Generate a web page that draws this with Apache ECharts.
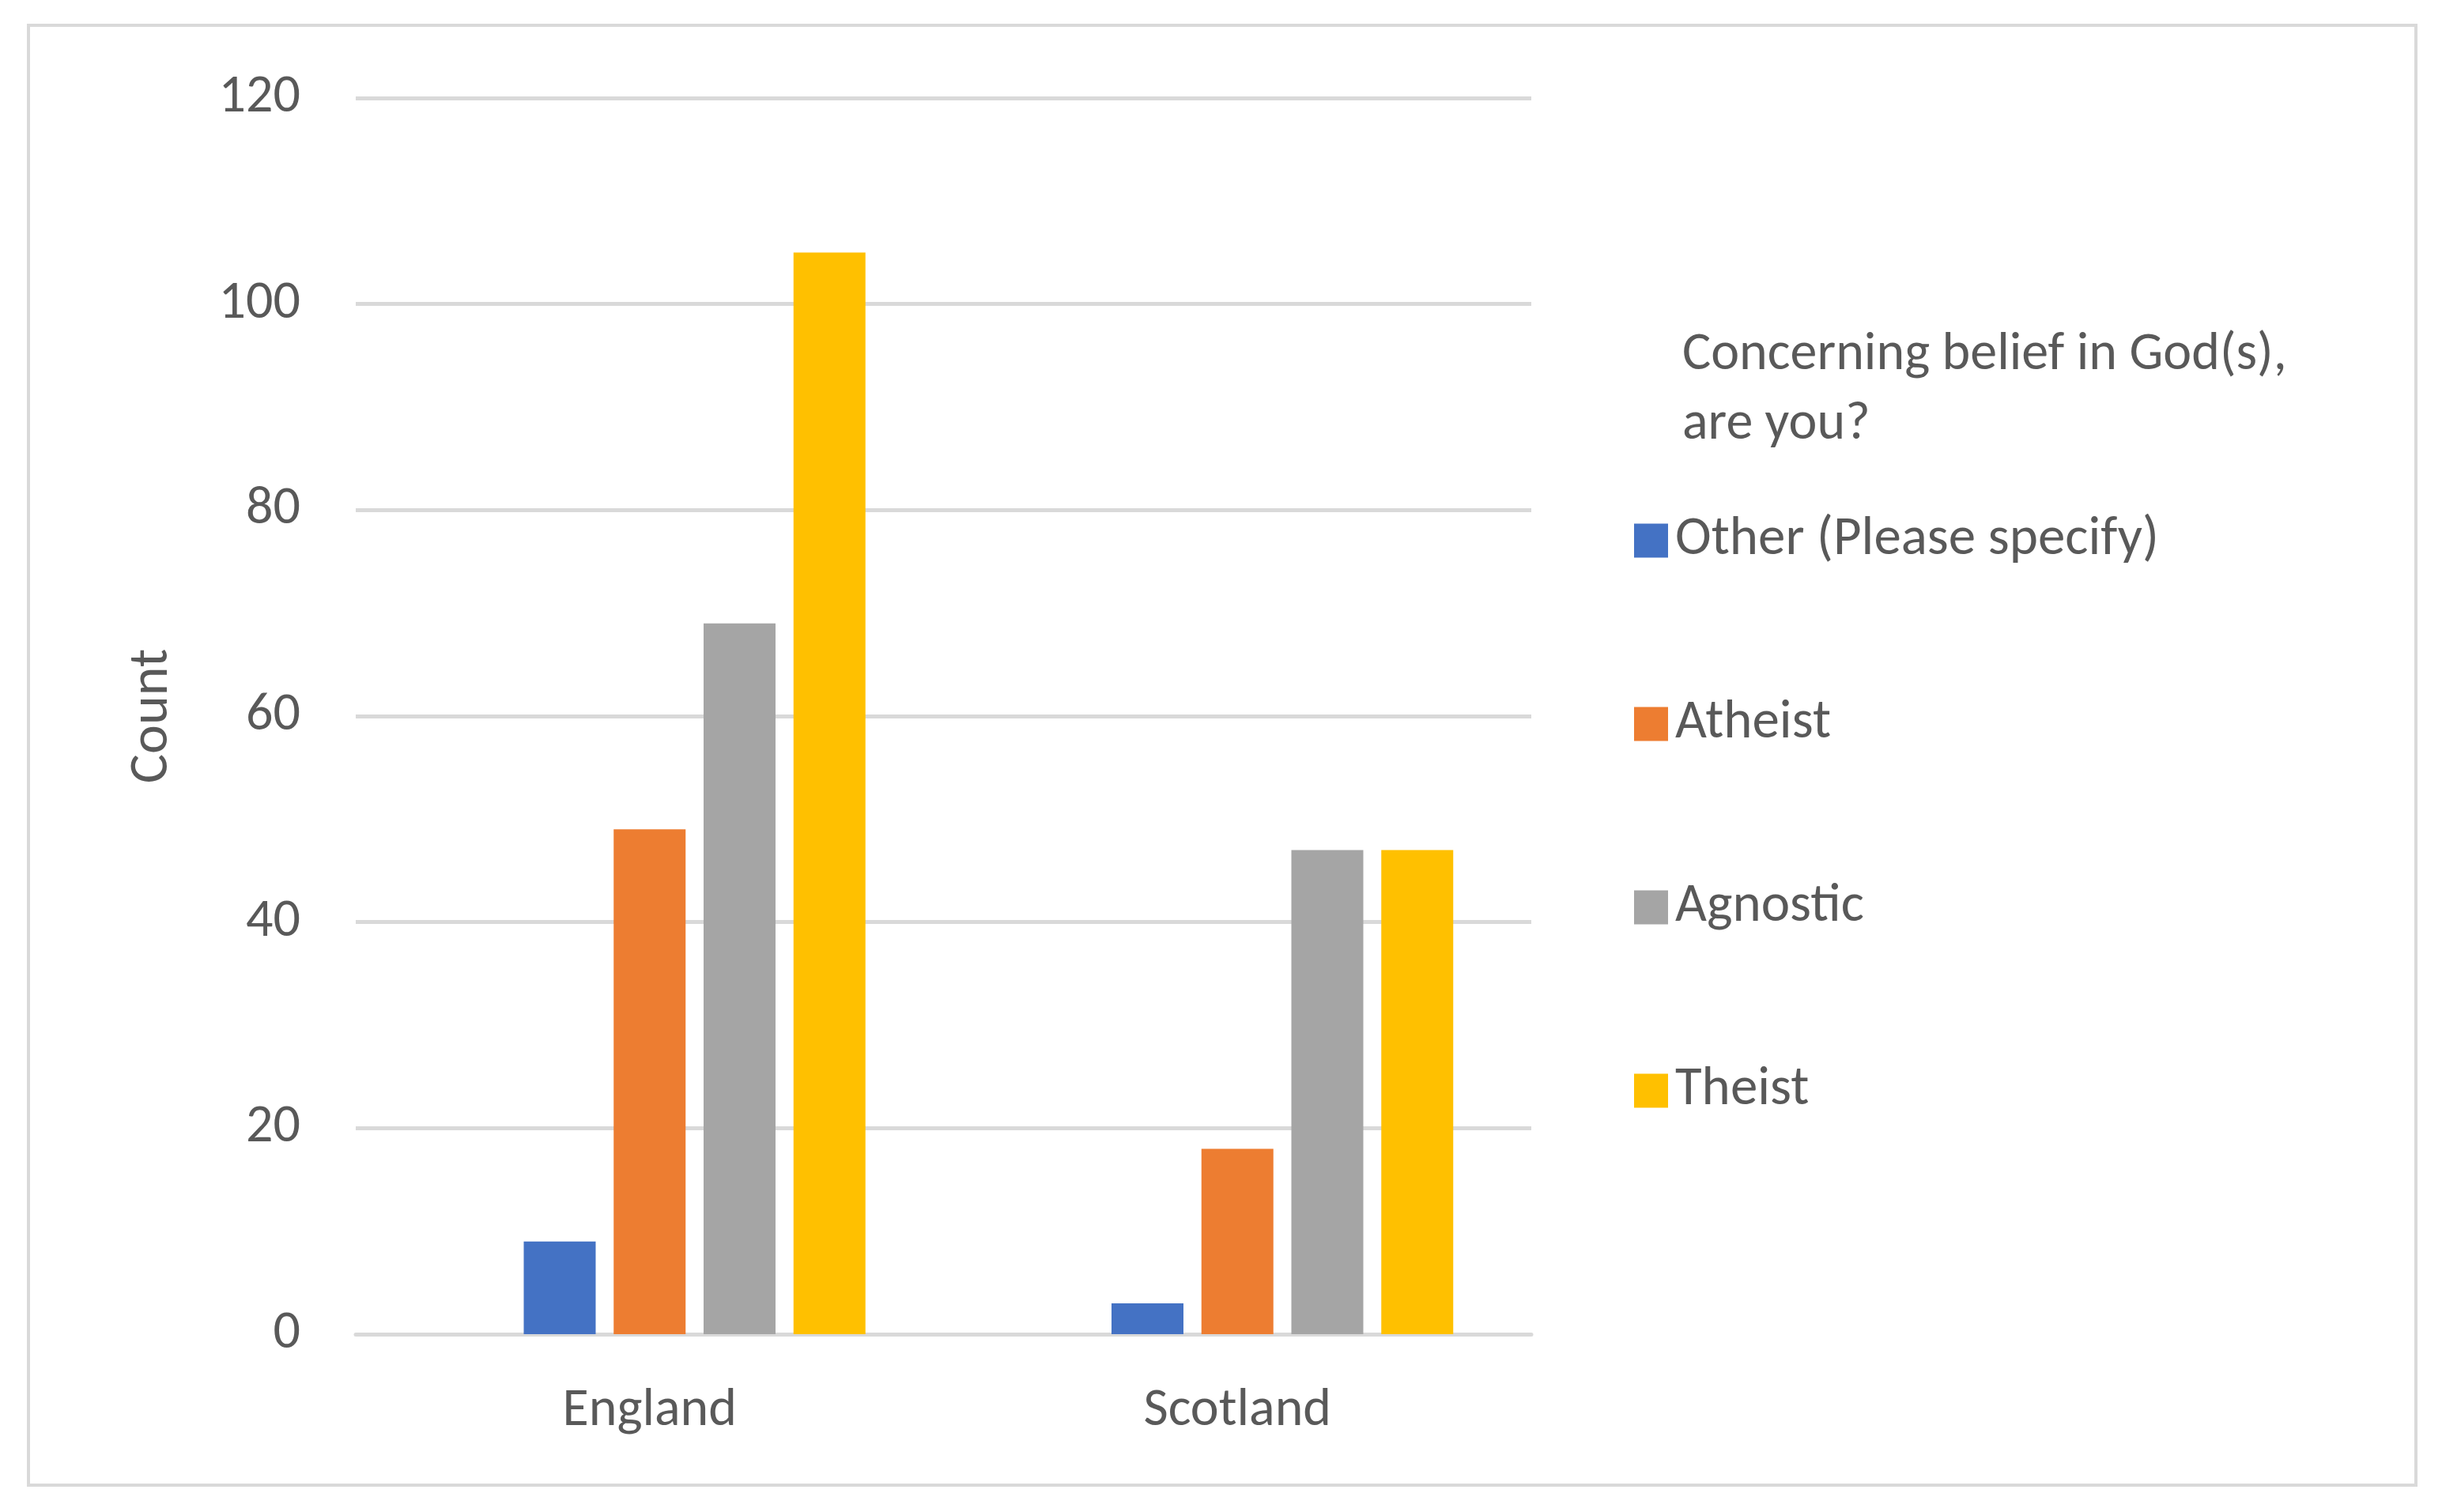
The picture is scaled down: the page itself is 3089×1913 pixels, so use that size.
<!DOCTYPE html>
<html><head><meta charset="utf-8">
<script src="https://cdn.jsdelivr.net/npm/echarts@6/dist/echarts.min.js"></script>
<style>html,body{margin:0;padding:0;background:#fff}#c{width:3089px;height:1913px}</style>
</head><body><div id="c"></div>
<script>
const categories = ['England', 'Scotland'];
const seriesNames = ['Other (Please specify)', 'Atheist', 'Agnostic', 'Theist'];
const other = [9, 3];
const atheist = [49, 18];
const agnostic = [69, 47];
const theist = [105, 47];
const colors = ['#4472C4', '#ED7D31', '#A5A5A5', '#FFC000'];
const values = [other, atheist, agnostic, theist];
const F = 'Calibri, Carlito, "Open Sans", "Noto Sans", sans-serif';
const chart = echarts.init(document.getElementById('c'));
const series = [{ name: '_blank', type: 'bar', data: [null, null], barWidth: 91, barGap: '25%' }];
seriesNames.forEach((n, i) => series.push({ name: n, type: 'bar', data: values[i], barWidth: 91, barGap: '25%', itemStyle: { color: colors[i] } }));
chart.setOption({
  animation: false,
  backgroundColor: '#fff',
  textStyle: { fontFamily: F },
  graphic: [
    { type: 'rect', shape: { x: 36, y: 32, width: 3020, height: 1847 }, style: { fill: 'none', stroke: '#d9d9d9', lineWidth: 4 } },
    { type: 'text', left: 2128, top: 406, style: { text: 'Concerning belief in God(s),\nare you?', font: '68px ' + F, fill: '#595959', lineHeight: 88 } }
  ],
  legend: {
    orient: 'vertical', left: 2062, top: 644,
    data: seriesNames, itemWidth: 43, itemHeight: 43, itemGap: 162,
    icon: 'rect',
    textStyle: { fontSize: 69, lineHeight: 70, color: '#595959', fontFamily: F, padding: [0, 0, 0, 4] }
  },
  grid: { left: 450, right: 3089 - 1937, top: 124, bottom: 1913 - 1688 },
  xAxis: {
    type: 'category', data: categories,
    axisLine: { lineStyle: { color: '#d9d9d9', width: 5 } },
    axisTick: { show: false },
    axisLabel: { fontSize: 68, color: '#595959', margin: 64, fontFamily: F }
  },
  yAxis: {
    type: 'value', min: 0, max: 120, interval: 20,
    name: 'Count', nameLocation: 'middle', nameGap: 222,
    nameTextStyle: { fontSize: 70, color: '#595959', fontFamily: F },
    axisLine: { show: false }, axisTick: { show: false },
    axisLabel: { fontSize: 68, color: '#595959', margin: 70, fontFamily: F },
    splitLine: { lineStyle: { color: '#d9d9d9', width: 5 } }
  },
  series: series
});
</script></body></html>
